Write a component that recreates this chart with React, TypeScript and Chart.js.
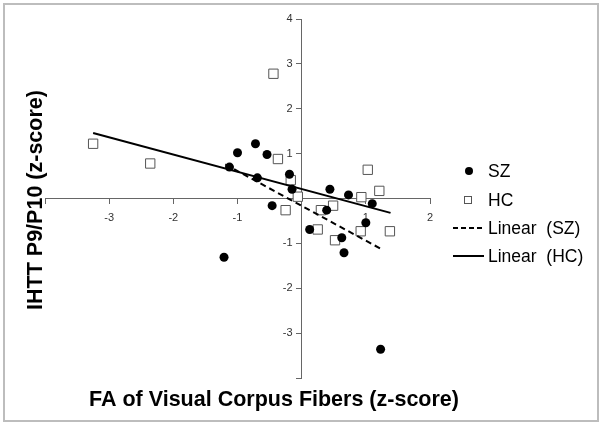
import React, { useEffect, useRef } from "react";
import { Chart, registerables } from "chart.js";

Chart.register(...registerables);

// ---- data ----
const szX = [-1.125, -1.0, -0.72, -0.54, -0.69, -0.19, -0.15, -0.46, 0.44, 0.73, 1.1, 0.39, 1.0, 0.125, 0.625, 0.66, -1.21, 1.23];
const szY = [0.7, 1.02, 1.22, 0.98, 0.46, 0.54, 0.205, -0.16, 0.205, 0.08, -0.115, -0.26, -0.54, -0.69, -0.875, -1.21, -1.31, -3.36];
const hcX = [-3.25, -2.36, -0.44, -0.37, -0.17, -0.06, -0.25, 1.03, 1.21, 0.93, 0.49, 0.3, 0.25, 0.92, 1.375, 0.52];
const hcY = [1.22, 0.78, 2.78, 0.88, 0.41, 0.04, -0.26, 0.64, 0.17, 0.03, -0.16, -0.26, -0.69, -0.73, -0.73, -0.93];
const trendSZX = [-1.19, 1.245];
const trendSZY = [0.76, -1.13];
const trendHCX = [-3.25, 1.385];
const trendHCY = [1.46, -0.32];
const xRange = [-4, 2];
const yRange = [-4, 4];
const hiddenTickLabels = [0, -4];
const seriesNames = ["SZ", "HC", "Linear  (SZ)", "Linear  (HC)"];
const xTitle = "FA of Visual Corpus Fibers (z-score)";
const yTitle = "IHTT P9/P10 (z-score)";

const FONT = "'Liberation Sans', Arial, sans-serif";

const pts = (xs: number[], ys: number[]) => xs.map((x, i) => ({ x, y: ys[i] }));

const decorPlugin = {
  id: "decor",
  afterDraw(chart: any) {
    const ctx = chart.ctx as CanvasRenderingContext2D;
    ctx.save();
    // frame
    ctx.strokeStyle = "#bdbdbd";
    ctx.lineWidth = 2;
    ctx.strokeRect(4, 4, 594, 417);
    // titles
    ctx.fillStyle = "#000";
    ctx.font = `bold 21.5px ${FONT}`;
    ctx.textAlign = "center";
    ctx.textBaseline = "alphabetic";
    ctx.fillText(xTitle, 274, 406);
    ctx.save();
    ctx.translate(42, 200);
    ctx.rotate(-Math.PI / 2);
    ctx.fillText(yTitle, 0, 0);
    ctx.restore();
    // legend
    const lx = 453, lw = 31, tx = 488;
    const ys = [171, 200, 228, 256];
    ctx.font = `17.5px ${FONT}`;
    ctx.textAlign = "left";
    ctx.textBaseline = "middle";
    // SZ
    ctx.fillStyle = "#000";
    ctx.beginPath();
    ctx.arc(469, ys[0], 4, 0, Math.PI * 2);
    ctx.fill();
    // HC
    ctx.fillStyle = "#fff";
    ctx.strokeStyle = "#555";
    ctx.lineWidth = 1;
    ctx.fillRect(464.5, ys[1] - 3.5, 7, 7);
    ctx.strokeRect(464.5, ys[1] - 3.5, 7, 7);
    // Linear SZ
    ctx.strokeStyle = "#000";
    ctx.lineWidth = 2;
    ctx.setLineDash([5, 3]);
    ctx.beginPath();
    ctx.moveTo(lx, ys[2]);
    ctx.lineTo(lx + lw, ys[2]);
    ctx.stroke();
    ctx.setLineDash([]);
    ctx.beginPath();
    ctx.moveTo(lx, ys[3]);
    ctx.lineTo(lx + lw, ys[3]);
    ctx.stroke();
    ctx.fillStyle = "#000";
    seriesNames.forEach((n, i) => ctx.fillText(n, tx, ys[i] + 1));
    ctx.restore();
  },
};

export default function App() {
  const ref = useRef<HTMLCanvasElement | null>(null);
  useEffect(() => {
    if (!ref.current) return;
    const xTickCb = (v: any) => (hiddenTickLabels.includes(Number(v)) ? "" : String(v));
    const yTickCb = (v: any) => (hiddenTickLabels.includes(Number(v)) ? "" : String(v) + "   ");
    const chart = new Chart(ref.current, {
      type: "scatter",
      data: {
        datasets: [
          {
            label: seriesNames[2],
            type: "line",
            data: pts(trendSZX, trendSZY),
            borderColor: "#000",
            borderWidth: 2,
            borderDash: [6, 4],
            pointRadius: 0,
            fill: false,
          } as any,
          {
            label: seriesNames[3],
            type: "line",
            data: pts(trendHCX, trendHCY),
            borderColor: "#000",
            borderWidth: 2,
            pointRadius: 0,
            fill: false,
          } as any,
          {
            label: seriesNames[0],
            data: pts(szX, szY),
            pointStyle: "circle",
            pointRadius: 4.5,
            backgroundColor: "#000",
            borderColor: "#000",
            borderWidth: 0,
          },
          {
            label: seriesNames[1],
            data: pts(hcX, hcY),
            pointStyle: "rect",
            pointRadius: 6.6,
            backgroundColor: "#fff",
            borderColor: "#555",
            borderWidth: 1,
          },
        ],
      },
      options: {
        responsive: false,
        animation: false,
        layout: { padding: { left: 45, right: 174, top: 19, bottom: 48 } },
        plugins: { legend: { display: false }, tooltip: { enabled: false } },
        scales: {
          x: {
            type: "linear",
            min: xRange[0],
            max: xRange[1],
            position: { y: 0 } as any,
            afterFit: (s: any) => { s.height = 0; },
            grid: { display: true, drawOnChartArea: false, drawTicks: true, tickLength: 5, color: "#666" },
            border: { display: true, color: "#666", width: 1 },
            ticks: { stepSize: 1, padding: 8, color: "#333", font: { family: FONT, size: 11 }, callback: xTickCb },
          },
          y: {
            type: "linear",
            min: yRange[0],
            max: yRange[1],
            position: { x: 0 } as any,
            afterFit: (s: any) => { s.width = 0; },
            grid: { display: true, drawOnChartArea: false, drawTicks: true, tickLength: 5, color: "#666" },
            border: { display: true, color: "#666", width: 1 },
            ticks: { stepSize: 1, padding: 5, color: "#333", font: { family: FONT, size: 11 }, callback: yTickCb },
          },
        },
      },
      plugins: [decorPlugin],
    });
    return () => chart.destroy();
  }, []);
  return (
    <div style={{ position: "fixed", left: 0, top: 0, width: 604, height: 426, background: "#fff" }}>
      <canvas ref={ref} width={604} height={426} style={{ display: "block" }} />
    </div>
  );
}
